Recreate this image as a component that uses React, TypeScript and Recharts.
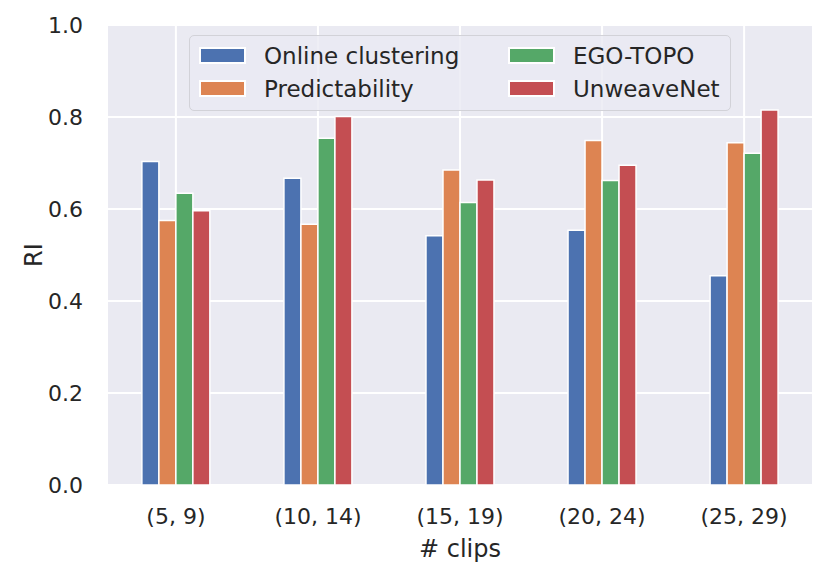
import { Bar, BarChart, CartesianGrid, Legend, XAxis, YAxis } from "recharts";

const TEXT = "#262626";
const FONT = "DejaVu Sans";

const clipRanges = ["(5, 9)", "(10, 14)", "(15, 19)", "(20, 24)", "(25, 29)"];
const onlineClustering = [0.703, 0.667, 0.542, 0.554, 0.455];
const predictability = [0.575, 0.567, 0.685, 0.749, 0.744];
const egoTopo = [0.634, 0.754, 0.614, 0.662, 0.721];
const unweaveNet = [0.596, 0.801, 0.663, 0.695, 0.815];
const yTicks = [0, 0.2, 0.4, 0.6, 0.8, 1.0];

const series = [
  { key: "online", name: "Online clustering", color: "#4C72B0" },
  { key: "pred", name: "Predictability", color: "#DD8452" },
  { key: "ego", name: "EGO-TOPO", color: "#55A868" },
  { key: "unweave", name: "UnweaveNet", color: "#C44E52" },
];

const data = clipRanges.map((label, i) => ({
  pos: i,
  label,
  online: onlineClustering[i],
  pred: predictability[i],
  ego: egoTopo[i],
  unweave: unweaveNet[i],
}));

// matplotlib fills legend columns top to bottom
const legendOrder = ["online", "pred", "ego", "unweave"];

function renderLegend() {
  return (
    <div
      style={{
        boxSizing: "border-box",
        width: 542,
        height: 76,
        background: "rgba(234, 234, 242, 0.8)",
        border: "1.5px solid #d2d2d8",
        borderRadius: 5,
        display: "grid",
        gridTemplateColumns: "309px auto",
        gridTemplateRows: "33px 33px",
        gridAutoFlow: "column",
        padding: "3px 0 0 9px",
        fontFamily: FONT,
        fontSize: 23,
        color: TEXT,
      }}
    >
      {legendOrder.map((k) => {
        const s = series.find((x) => x.key === k)!;
        return (
          <div key={k} style={{ display: "flex", alignItems: "center" }}>
            <span
              style={{
                boxSizing: "border-box",
                width: 47,
                height: 17,
                background: s.color,
                border: "2px solid #fff",
                marginRight: 18,
              }}
            />
            <span>{s.name}</span>
          </div>
        );
      })}
    </div>
  );
}

export default function App() {
  return (
    <div style={{ position: "absolute", left: 0, top: 0, width: 830, height: 576 }}>
      <BarChart
        width={830}
        height={576}
        data={data}
        margin={{ top: 25, right: 17, left: 0, bottom: 0 }}
        barSize={17}
        barGap={0}
      >
        <CartesianGrid
          fill="#EAEAF2"
          fillOpacity={1}
          stroke="#ffffff"
          strokeWidth={2}
        />
        <XAxis
          dataKey="pos"
          type="number"
          domain={[-0.485, 4.485]}
          ticks={[0, 1, 2, 3, 4]}
          tickFormatter={(v: number) => clipRanges[v]}
          axisLine={false}
          tickLine={false}
          tickSize={0}
          tickMargin={23}
          height={91}
          tick={{ fill: TEXT, fontSize: 22, fontFamily: FONT }}
          label={{
            value: "# clips",
            position: "insideBottom",
            offset: 19,
            fill: TEXT,
            fontSize: 24,
            fontFamily: FONT,
          }}
        />
        <YAxis
          domain={[0, 1]}
          ticks={yTicks}
          tickFormatter={(v: number) => v.toFixed(1)}
          axisLine={false}
          tickLine={false}
          tickSize={0}
          tickMargin={24}
          width={107}
          tick={{ fill: TEXT, fontSize: 22, fontFamily: FONT }}
          label={{
            value: "RI",
            angle: -90,
            position: "insideLeft",
            offset: 33,
            fill: TEXT,
            fontSize: 24,
            fontFamily: FONT,
            style: { textAnchor: "middle" },
          }}
        />
        <Legend
          layout="horizontal"
          verticalAlign="middle"
          align="center"
          content={renderLegend}
          wrapperStyle={{ left: 189, top: 35, width: 542, height: 76 }}
        />
        {series.map((s) => (
          <Bar
            key={s.key}
            dataKey={s.key}
            name={s.name}
            fill={s.color}
            stroke="#ffffff"
            strokeWidth={1.5}
            isAnimationActive={false}
          />
        ))}
      </BarChart>
    </div>
  );
}
